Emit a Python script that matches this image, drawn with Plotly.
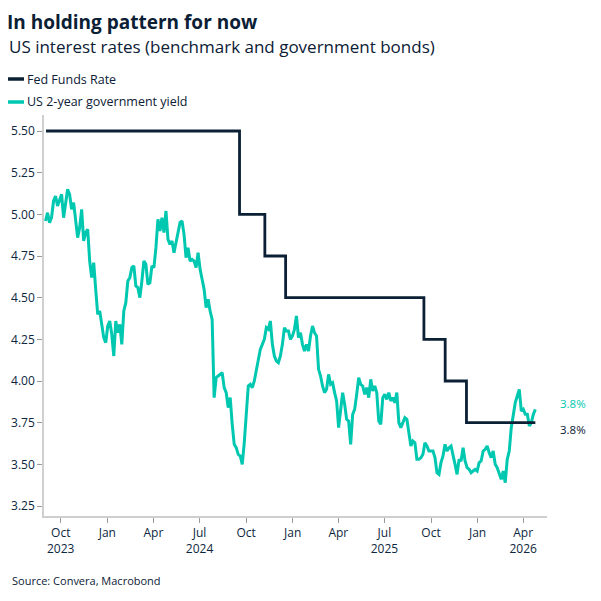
import pandas as pd
import plotly.graph_objects as go

# ---- data ----
yield_start = "2023-09-01"
yield_end = "2026-04-25"
us2y = [
    4.96, 5.01, 4.95, 4.98, 5.08, 5.11, 5.05, 5.08, 5.12, 4.98,
    5.08, 5.15, 5.12, 5.03, 5.07, 4.98, 4.86, 4.92, 5.03, 4.84,
    4.89, 4.91, 4.72, 4.62, 4.71, 4.55, 4.40, 4.42, 4.34, 4.26,
    4.23, 4.33, 4.36, 4.28, 4.15, 4.36, 4.29, 4.34, 4.22, 4.42,
    4.47, 4.60, 4.62, 4.68, 4.69, 4.57, 4.56, 4.50, 4.60, 4.72,
    4.70, 4.58, 4.59, 4.69, 4.68, 4.80, 4.97, 4.90, 4.98, 4.89,
    5.02, 4.85, 4.82, 4.84, 4.77, 4.83, 4.89, 4.95, 4.96, 4.88,
    4.74, 4.80, 4.72, 4.73, 4.72, 4.68, 4.77, 4.67, 4.61, 4.55,
    4.44, 4.49, 4.42, 4.37, 3.90, 4.02, 4.03, 4.04, 4.05, 3.96,
    3.93, 3.84, 3.90, 3.74, 3.62, 3.60, 3.56, 3.55, 3.50, 3.63,
    3.78, 3.97, 3.98, 3.96, 4.00, 4.06, 4.13, 4.19, 4.22, 4.25,
    4.32, 4.31, 4.36, 4.22, 4.15, 4.12, 4.11, 4.15, 4.22, 4.32,
    4.30, 4.30, 4.25, 4.27, 4.31, 4.39, 4.26, 4.29, 4.22, 4.18,
    4.22, 4.18, 4.27, 4.33, 4.29, 4.27, 4.07, 4.03, 3.97, 3.93,
    3.95, 4.04, 3.98, 3.99, 3.93, 3.88, 3.72, 3.83, 3.93, 3.86,
    3.77, 3.76, 3.62, 3.80, 3.83, 3.92, 4.02, 3.98, 3.97, 3.92,
    3.96, 3.90, 4.01, 3.94, 3.97, 3.93, 3.76, 3.74, 3.90, 3.92,
    3.89, 3.93, 3.88, 3.90, 3.87, 3.93, 3.75, 3.72, 3.75, 3.78,
    3.77, 3.70, 3.61, 3.64, 3.63, 3.53, 3.53, 3.54, 3.56, 3.63,
    3.61, 3.58, 3.58, 3.58, 3.54, 3.45, 3.44, 3.51, 3.55, 3.62,
    3.58, 3.60, 3.61, 3.56, 3.50, 3.44, 3.53, 3.52, 3.60, 3.52,
    3.48, 3.47, 3.45, 3.46, 3.47, 3.46, 3.51, 3.52, 3.58, 3.59,
    3.61, 3.57, 3.54, 3.58, 3.50, 3.48, 3.45, 3.41, 3.46, 3.39,
    3.53, 3.58, 3.72, 3.80, 3.87, 3.91, 3.95, 3.82, 3.83, 3.80,
    3.80, 3.73, 3.75, 3.80, 3.83,
]
us2y_dates = pd.date_range(yield_start, yield_end, periods=len(us2y))

fed_dates = ["2023-09-02", "2024-09-18", "2024-11-07", "2024-12-18",
             "2025-09-17", "2025-10-29", "2025-12-10", "2026-04-25"]
fed_rate = [5.50, 5.00, 4.75, 4.50, 4.25, 4.00, 3.75, 3.75]

tick_dates = ["2023-10-01", "2024-01-01", "2024-04-01", "2024-07-01",
              "2024-10-01", "2025-01-01", "2025-04-01", "2025-07-01",
              "2025-10-01", "2026-01-01", "2026-04-01"]
tick_text = ["Oct<br>2023", "Jan", "Apr", "Jul<br>2024", "Oct", "Jan",
             "Apr", "Jul<br>2025", "Oct", "Jan", "Apr<br>2026"]
y_ticks = [3.25, 3.50, 3.75, 4.00, 4.25, 4.50, 4.75, 5.00, 5.25, 5.50]

NAVY = "#0b2035"
TEAL = "#00c8b0"
TXT = "#0d2740"
FONT = "Open Sans"

fig = go.Figure()
fig.add_trace(go.Scatter(x=us2y_dates, y=us2y, mode="lines",
                         line=dict(color=TEAL, width=3),
                         name="US 2-year government yield", showlegend=False))
fig.add_trace(go.Scatter(x=fed_dates, y=fed_rate, mode="lines",
                         line=dict(color=NAVY, width=2.8, shape="hv"),
                         name="Fed Funds Rate", showlegend=False))

W, H = 601, 601
ml, mr, mt, mb = 44, 54, 115, 85

fig.update_layout(
    width=W, height=H,
    margin=dict(l=ml, r=mr, t=mt, b=mb),
    paper_bgcolor="white", plot_bgcolor="white",
    font=dict(family=FONT, color=TXT, size=12),
    title=dict(text="<b>In holding pattern for now</b>", xref="container", yref="container",
               x=7 / W, y=1 - 22 / H, xanchor="left", yanchor="middle",
               font=dict(size=19, color=NAVY, family=FONT)),
)
fig.update_xaxes(range=["2023-08-29", "2026-05-18"], tickvals=tick_dates, ticktext=tick_text,
                 showgrid=False, zeroline=False, showline=True, linecolor="#cfcfcf", linewidth=1.5,
                 ticks="outside", ticklen=5, tickcolor="#9a9a9a", tickfont=dict(size=12, color=TXT))
fig.update_yaxes(range=[3.19, 5.596], tickvals=y_ticks, tickformat=".2f",
                 showgrid=False, zeroline=False, showline=True, linecolor="#cfcfcf", linewidth=1.5,
                 ticks="outside", ticklen=5, tickcolor="#9a9a9a", tickfont=dict(size=12, color=TXT))

pw, ph = W - ml - mr, H - mt - mb
ann = []
ann.append(dict(text="US interest rates (benchmark and government bonds)", xref="paper", yref="paper",
                x=(7 - ml) / pw, y=1 + (mt - 47) / ph, xanchor="left", yanchor="middle",
                showarrow=False, font=dict(size=17, color=NAVY)))
# legend (manual)
legend_items = [("Fed Funds Rate", NAVY, 79), ("US 2-year government yield", TEAL, 102)]
shapes = []
for label, col, ypx in legend_items:
    yp = 1 + (mt - ypx) / ph
    shapes.append(dict(type="line", xref="paper", yref="paper",
                       x0=(8 - ml) / pw, x1=(24 - ml) / pw, y0=yp, y1=yp,
                       line=dict(color=col, width=3.5)))
    ann.append(dict(text=label, xref="paper", yref="paper", x=(25 - ml) / pw, y=yp,
                    xanchor="left", yanchor="middle", showarrow=False,
                    font=dict(size=12.5, color=NAVY)))
# end labels
ann.append(dict(text=f"{us2y[-1]:.1f}%", xref="paper", yref="y", x=(573 - ml) / pw, y=3.865,
                xanchor="center", yanchor="middle", showarrow=False, font=dict(size=11.5, color=TEAL)))
ann.append(dict(text=f"{fed_rate[-1]:.1f}%", xref="paper", yref="y", x=(573 - ml) / pw, y=3.71,
                xanchor="center", yanchor="middle", showarrow=False, font=dict(size=11.5, color=NAVY)))
# source
ann.append(dict(text="Source: Convera, Macrobond", xref="paper", yref="paper",
                x=(10 - ml) / pw, y=-(580 - (H - mb)) / ph, xanchor="left", yanchor="middle",
                showarrow=False, font=dict(size=11, color=NAVY)))
fig.update_layout(annotations=ann, shapes=shapes)

fig.write_html("out.html")
